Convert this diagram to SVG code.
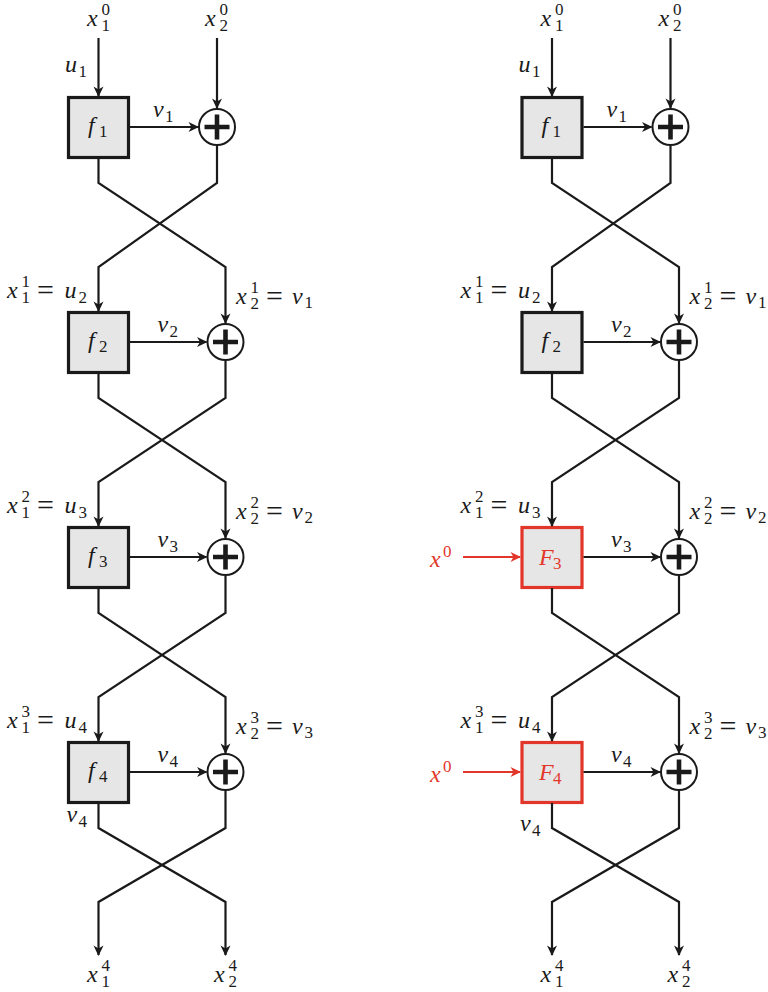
<svg xmlns="http://www.w3.org/2000/svg" width="768" height="992" viewBox="0 0 768 992">
  <defs>
    <marker id="arr" viewBox="-11 -6 13 12" refX="0" refY="0" markerWidth="13" markerHeight="12" markerUnits="userSpaceOnUse" orient="auto" overflow="visible">
      <path d="M1,0 L-9.5,-5 L-6.5,0 L-9.5,5 Z" fill="#1a1a1a"/>
    </marker>
    <marker id="arrRed" viewBox="-11 -6 13 12" refX="0" refY="0" markerWidth="13" markerHeight="12" markerUnits="userSpaceOnUse" orient="auto" overflow="visible">
      <path d="M1,0 L-9.5,-5 L-6.5,0 L-9.5,5 Z" fill="#e2362a"/>
    </marker>
  </defs>
  <style>
    .box { fill: #e6e6e6; stroke: #1a1a1a; stroke-width: 3.2; }
    .rbox { fill: #e6e6e6; stroke: #e2362a; stroke-width: 3.2; }
    .xor circle { fill: #ffffff; stroke: #1a1a1a; stroke-width: 2; }
    .xor path { fill: none; stroke: #1a1a1a; stroke-width: 4.6; }
    .wire { fill: none; stroke: #1a1a1a; stroke-width: 2.2; marker-end: url(#arr); }
    .rwire { fill: none; stroke: #e2362a; stroke-width: 2.2; marker-end: url(#arrRed); }
    .lbl text { font-style: italic; font-size: 24px; fill: #1a1a1a; }
    .lbl .s { font-size: 17px; font-style: normal; }
    .lbl .eq { font-style: normal; font-size: 30px; }
    .lbl .red { fill: #e2362a; }
  </style>

  <!-- ===== left network ===== -->
  <g id="L_f1" class="lbl" font-family="Liberation Serif, Times New Roman, serif"><rect class="box" x="68.5" y="97.5" width="60" height="60"/>
    <text x="88" y="133">f<tspan class="s" x="99" y="137">1</tspan></text></g>
  <g id="L_xor1" class="xor"><circle cx="217" cy="127" r="18"/><path d="M204.5,127 H229.5 M217,114.5 V139.5"/></g>

  <g id="L_f2" class="lbl" font-family="Liberation Serif, Times New Roman, serif"><rect class="box" x="68.5" y="312.5" width="60" height="60"/>
    <text x="88" y="348">f<tspan class="s" x="99" y="352">2</tspan></text></g>
  <g id="L_xor2" class="xor"><circle cx="225.5" cy="342" r="18"/><path d="M213,342 H238 M225.5,329.5 V354.5"/></g>

  <g id="L_f3" class="lbl" font-family="Liberation Serif, Times New Roman, serif"><rect class="box" x="68.5" y="527.5" width="60" height="60"/>
    <text x="88" y="563">f<tspan class="s" x="99" y="567">3</tspan></text></g>
  <g id="L_xor3" class="xor"><circle cx="225.5" cy="557" r="18"/><path d="M213,557 H238 M225.5,544.5 V569.5"/></g>

  <g id="L_f4" class="lbl" font-family="Liberation Serif, Times New Roman, serif"><rect class="box" x="68.5" y="742.5" width="60" height="60"/>
    <text x="88" y="778">f<tspan class="s" x="99" y="782">4</tspan></text></g>
  <g id="L_xor4" class="xor"><circle cx="225.5" cy="772" r="18"/><path d="M213,772 H238 M225.5,759.5 V784.5"/></g>

  <!-- ===== right network ===== -->
  <g id="R_f1" class="lbl" font-family="Liberation Serif, Times New Roman, serif"><rect class="box" x="522" y="97.5" width="60" height="60"/>
    <text x="541.5" y="133">f<tspan class="s" x="552.5" y="137">1</tspan></text></g>
  <g id="R_xor1" class="xor"><circle cx="670.5" cy="127" r="18"/><path d="M658,127 H683 M670.5,114.5 V139.5"/></g>

  <g id="R_f2" class="lbl" font-family="Liberation Serif, Times New Roman, serif"><rect class="box" x="522" y="312.5" width="60" height="60"/>
    <text x="541.5" y="348">f<tspan class="s" x="552.5" y="352">2</tspan></text></g>
  <g id="R_xor2" class="xor"><circle cx="679" cy="342" r="18"/><path d="M666.5,342 H691.5 M679,329.5 V354.5"/></g>

  <g id="R_F3" class="lbl" font-family="Liberation Serif, Times New Roman, serif"><rect class="rbox" x="522" y="527.5" width="60" height="60"/>
    <text class="red" x="539" y="565">F<tspan class="s red" x="553" y="569">3</tspan></text></g>
  <g id="R_xor3" class="xor"><circle cx="679" cy="557" r="18"/><path d="M666.5,557 H691.5 M679,544.5 V569.5"/></g>

  <g id="R_F4" class="lbl" font-family="Liberation Serif, Times New Roman, serif"><rect class="rbox" x="522" y="742.5" width="60" height="60"/>
    <text class="red" x="539" y="780">F<tspan class="s red" x="553" y="784">4</tspan></text></g>
  <g id="R_xor4" class="xor"><circle cx="679" cy="772" r="18"/><path d="M666.5,772 H691.5 M679,759.5 V784.5"/></g>

  <!-- ===== connectors ===== -->
  <g id="connectors">
    <!-- left inputs -->
    <path class="wire" d="M98.5,38 V96"/>
    <path class="wire" d="M217,38 V108"/>
    <!-- left round outputs -->
    <path class="wire" d="M130,127 H198"/>
    <path class="wire" d="M130,342 H206.5"/>
    <path class="wire" d="M130,557 H206.5"/>
    <path class="wire" d="M130,772 H206.5"/>
    <!-- left swaps -->
    <path class="wire" d="M98.5,158 V183 L225.5,267 V323"/>
    <path class="wire" d="M217,146 V183 L98.5,267 V311"/>
    <path class="wire" d="M98.5,373 V398 L225.5,482 V538"/>
    <path class="wire" d="M225.5,361 V398 L98.5,482 V526"/>
    <path class="wire" d="M98.5,588 V613 L225.5,697 V753"/>
    <path class="wire" d="M225.5,576 V613 L98.5,697 V741"/>
    <path class="wire" d="M98.5,803 V828 L225.5,902 V955"/>
    <path class="wire" d="M225.5,791 V828 L98.5,902 V955"/>

    <!-- right inputs -->
    <path class="wire" d="M552,38 V96"/>
    <path class="wire" d="M670.5,38 V108"/>
    <!-- right round outputs -->
    <path class="wire" d="M583.5,127 H651.5"/>
    <path class="wire" d="M583.5,342 H660"/>
    <path class="wire" d="M583.5,557 H660"/>
    <path class="wire" d="M583.5,772 H660"/>
    <!-- right swaps -->
    <path class="wire" d="M552,158 V183 L679,267 V323"/>
    <path class="wire" d="M670.5,146 V183 L552,267 V311"/>
    <path class="wire" d="M552,373 V398 L679,482 V538"/>
    <path class="wire" d="M679,361 V398 L552,482 V526"/>
    <path class="wire" d="M552,588 V613 L679,697 V753"/>
    <path class="wire" d="M679,576 V613 L552,697 V741"/>
    <path class="wire" d="M552,803 V828 L679,902 V955"/>
    <path class="wire" d="M679,791 V828 L552,902 V955"/>
    <!-- extra inputs to F3, F4 -->
    <path class="rwire" d="M463,557 H520"/>
    <path class="rwire" d="M463,772 H520"/>
  </g>

  <!-- ===== labels: left ===== -->
  <g id="L_labels" class="lbl" font-family="Liberation Serif, Times New Roman, serif">
    <text x="87" y="26">x<tspan class="s" x="101.5" y="31">1</tspan><tspan class="s" x="101.5" y="15">0</tspan></text>
    <text x="205" y="26">x<tspan class="s" x="219.5" y="31">2</tspan><tspan class="s" x="219.5" y="15">0</tspan></text>
    <text x="65" y="72">u<tspan class="s" x="78.5" y="76.5">1</tspan></text>
    <text x="153" y="117">v<tspan class="s" x="165" y="121.5">1</tspan></text>

    <text x="7" y="298">x<tspan class="s" x="21.5" y="303">1</tspan><tspan class="s" x="21.5" y="287">1</tspan><tspan class="eq" x="37" y="300">=</tspan><tspan x="64.5" y="298">u</tspan><tspan class="s" x="78.5" y="302.5">2</tspan></text>
    <text x="236" y="303.5">x<tspan class="s" x="250.5" y="308.5">2</tspan><tspan class="s" x="250.5" y="292.5">1</tspan><tspan class="eq" x="266" y="305.5">=</tspan><tspan x="292" y="303.5">v</tspan><tspan class="s" x="304.5" y="308">1</tspan></text>
    <text x="157.5" y="332">v<tspan class="s" x="169.5" y="336.5">2</tspan></text>

    <text x="7" y="513">x<tspan class="s" x="21.5" y="518">1</tspan><tspan class="s" x="21.5" y="502">2</tspan><tspan class="eq" x="37" y="515">=</tspan><tspan x="64.5" y="513">u</tspan><tspan class="s" x="78.5" y="517.5">3</tspan></text>
    <text x="236" y="518.5">x<tspan class="s" x="250.5" y="523.5">2</tspan><tspan class="s" x="250.5" y="507.5">2</tspan><tspan class="eq" x="266" y="520.5">=</tspan><tspan x="292" y="518.5">v</tspan><tspan class="s" x="304.5" y="523">2</tspan></text>
    <text x="157.5" y="547">v<tspan class="s" x="169.5" y="551.5">3</tspan></text>

    <text x="7" y="728">x<tspan class="s" x="21.5" y="733">1</tspan><tspan class="s" x="21.5" y="717">3</tspan><tspan class="eq" x="37" y="730">=</tspan><tspan x="64.5" y="728">u</tspan><tspan class="s" x="78.5" y="732.5">4</tspan></text>
    <text x="236" y="733.5">x<tspan class="s" x="250.5" y="738.5">2</tspan><tspan class="s" x="250.5" y="722.5">3</tspan><tspan class="eq" x="266" y="735.5">=</tspan><tspan x="292" y="733.5">v</tspan><tspan class="s" x="304.5" y="738">3</tspan></text>
    <text x="157.5" y="762">v<tspan class="s" x="169.5" y="766.5">4</tspan></text>
    <text x="66.5" y="822">v<tspan class="s" x="78.5" y="826.5">4</tspan></text>

    <text x="87" y="982">x<tspan class="s" x="101.5" y="986.5">1</tspan><tspan class="s" x="101.5" y="971">4</tspan></text>
    <text x="214" y="982">x<tspan class="s" x="228.5" y="986.5">2</tspan><tspan class="s" x="228.5" y="971">4</tspan></text>
  </g>

  <!-- ===== labels: right ===== -->
  <g id="R_labels" class="lbl" font-family="Liberation Serif, Times New Roman, serif">
    <text x="540.5" y="26">x<tspan class="s" x="555" y="31">1</tspan><tspan class="s" x="555" y="15">0</tspan></text>
    <text x="658.5" y="26">x<tspan class="s" x="673" y="31">2</tspan><tspan class="s" x="673" y="15">0</tspan></text>
    <text x="518.5" y="72">u<tspan class="s" x="532" y="76.5">1</tspan></text>
    <text x="606.5" y="117">v<tspan class="s" x="618.5" y="121.5">1</tspan></text>

    <text x="460.5" y="298">x<tspan class="s" x="475" y="303">1</tspan><tspan class="s" x="475" y="287">1</tspan><tspan class="eq" x="490.5" y="300">=</tspan><tspan x="518" y="298">u</tspan><tspan class="s" x="532" y="302.5">2</tspan></text>
    <text x="689.5" y="303.5">x<tspan class="s" x="704" y="308.5">2</tspan><tspan class="s" x="704" y="292.5">1</tspan><tspan class="eq" x="719.5" y="305.5">=</tspan><tspan x="745.5" y="303.5">v</tspan><tspan class="s" x="758" y="308">1</tspan></text>
    <text x="611" y="332">v<tspan class="s" x="623" y="336.5">2</tspan></text>

    <text x="460.5" y="513">x<tspan class="s" x="475" y="518">1</tspan><tspan class="s" x="475" y="502">2</tspan><tspan class="eq" x="490.5" y="515">=</tspan><tspan x="518" y="513">u</tspan><tspan class="s" x="532" y="517.5">3</tspan></text>
    <text x="689.5" y="518.5">x<tspan class="s" x="704" y="523.5">2</tspan><tspan class="s" x="704" y="507.5">2</tspan><tspan class="eq" x="719.5" y="520.5">=</tspan><tspan x="745.5" y="518.5">v</tspan><tspan class="s" x="758" y="523">2</tspan></text>
    <text x="611" y="547">v<tspan class="s" x="623" y="551.5">3</tspan></text>
    <text class="red" x="430" y="567">x<tspan class="s red" x="443" y="557">0</tspan></text>

    <text x="460.5" y="728">x<tspan class="s" x="475" y="733">1</tspan><tspan class="s" x="475" y="717">3</tspan><tspan class="eq" x="490.5" y="730">=</tspan><tspan x="518" y="728">u</tspan><tspan class="s" x="532" y="732.5">4</tspan></text>
    <text x="689.5" y="733.5">x<tspan class="s" x="704" y="738.5">2</tspan><tspan class="s" x="704" y="722.5">3</tspan><tspan class="eq" x="719.5" y="735.5">=</tspan><tspan x="745.5" y="733.5">v</tspan><tspan class="s" x="758" y="738">3</tspan></text>
    <text x="611" y="762">v<tspan class="s" x="623" y="766.5">4</tspan></text>
    <text class="red" x="430" y="782">x<tspan class="s red" x="443" y="772">0</tspan></text>
    <text x="520" y="831">v<tspan class="s" x="532" y="835.5">4</tspan></text>

    <text x="540.5" y="982">x<tspan class="s" x="555" y="986.5">1</tspan><tspan class="s" x="555" y="971">4</tspan></text>
    <text x="667.5" y="982">x<tspan class="s" x="682" y="986.5">2</tspan><tspan class="s" x="682" y="971">4</tspan></text>
  </g>
</svg>
